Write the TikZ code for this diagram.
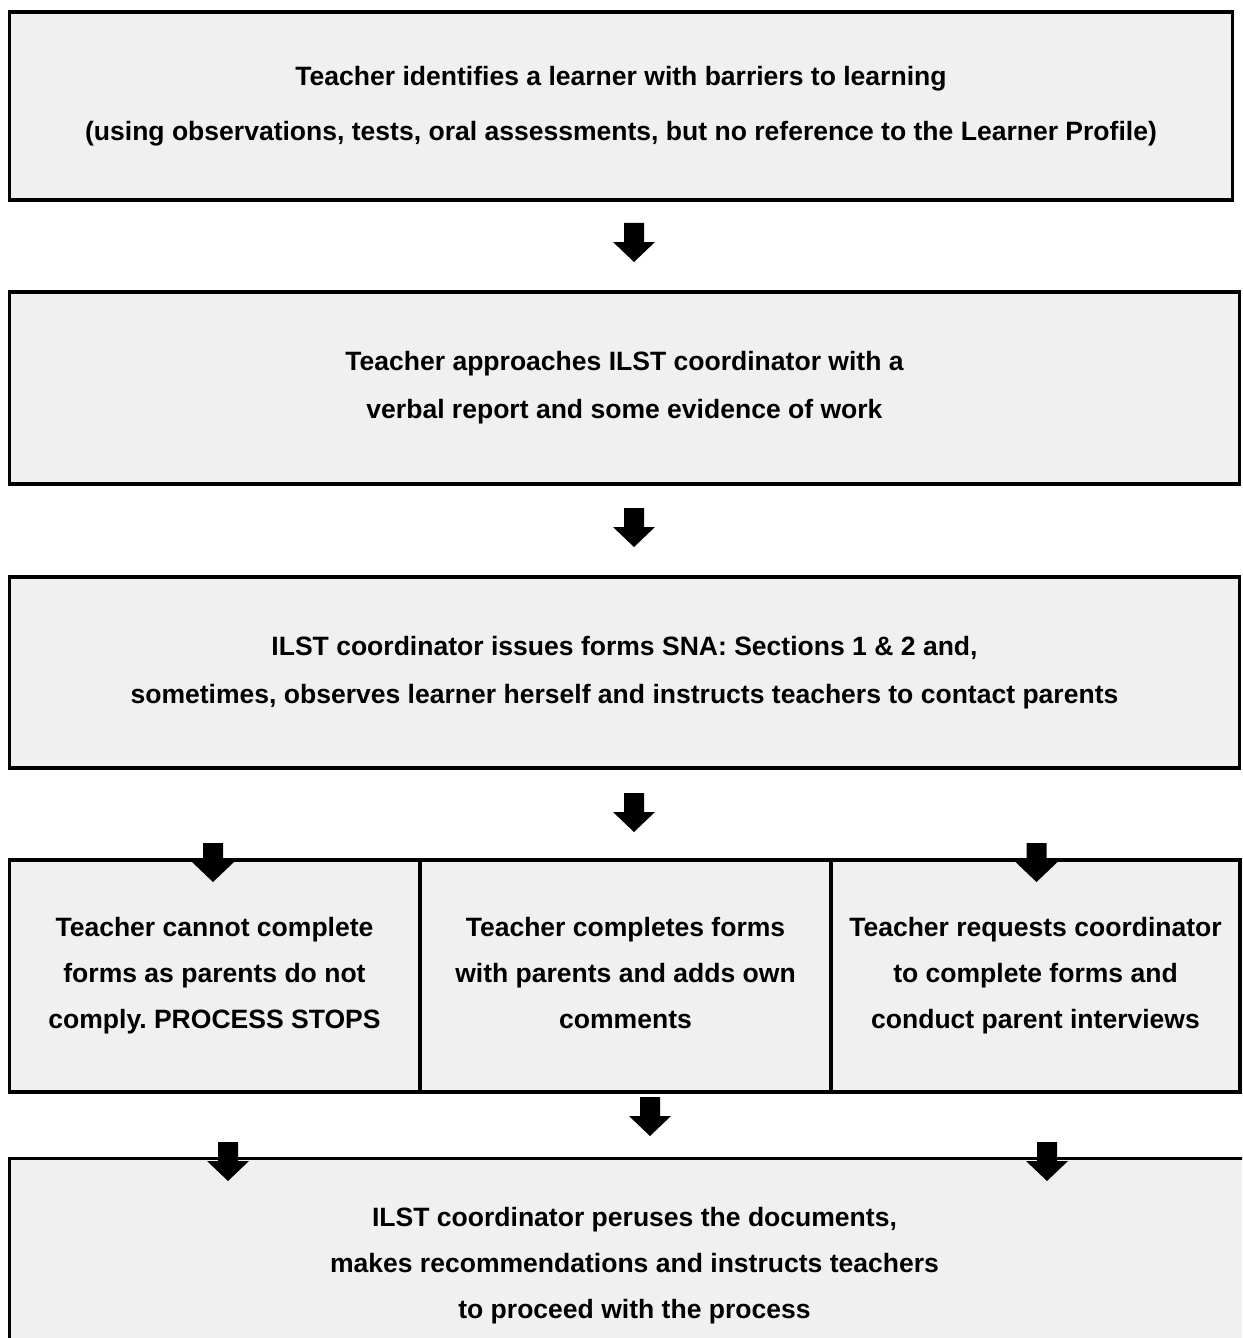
\documentclass[tikz,border=0pt]{standalone}
\usepackage{fontspec}
\setmainfont{Liberation Sans}
\frenchspacing
\usetikzlibrary{positioning}
\definecolor{boxgray}{HTML}{F0F0F0}
\tikzset{
  stage/.style={draw=black,line width=1.75pt,fill=boxgray,align=center,inner sep=0pt,
    font=\fontsize{15.1}{27.2}\selectfont\bfseries},            % process box
  wide/.style={stage,minimum width=24.62cm},                     % full-width box
  third/.style={stage,minimum width=8.22cm,minimum height=4.64cm,
    font=\fontsize{15.1}{26.2}\selectfont\bfseries},            % branch box
  downarr/.pic={\fill[black] (-10,0) -- (10,0) -- (10,19) -- (21,19)
    -- (0,39) -- (-21,19) -- (-10,19) -- cycle;},               % block arrow
}

\begin{document}
\begin{tikzpicture}[x=0.02cm,y=-0.02cm]
  \useasboundingbox (0,0) rectangle (1242,1338);
  \clip (0,0) rectangle (1242,1338);
  % main chain
  \node[stage,minimum width=24.48cm,minimum height=3.76cm] (identify) at (621,106)
    {Teacher identifies a learner with barriers to learning\\[4pt]
     (using observations, tests, oral assessments, but no reference to the Learner Profile)};
  \node[wide,minimum height=3.84cm] (approach) at (624.5,388)
    {Teacher approaches ILST coordinator with a\\ verbal report and some evidence of work};
  \node[wide,minimum height=3.82cm] (issue) at (624.5,672.5)
    {ILST coordinator issues forms SNA: Sections 1 \& 2 and,\\
     sometimes, observes learner herself and instructs teachers to contact parents};
  % three outcomes
  \node[third] (stops) at (214.5,976)
    {Teacher cannot complete\\ forms as parents do not\\ comply. PROCESS STOPS};
  \node[third] (completes) at (625.5,976)
    {Teacher completes forms\\ with parents and adds own\\ comments\vphantom{p}};
  \node[third,minimum width=8.18cm] (requests) at (1035.5,976)
    {Teacher requests coordinator\\ to complete forms and\\ conduct parent interviews};
  % final box, runs off the page
  \node[third,minimum width=25.02cm,minimum height=4.3cm] (peruse) at (634.5,1266)
    {ILST coordinator peruses the documents,\\ makes recommendations and instructs teachers\\
     to proceed with the process};
  % block arrows
  \pic at (634,223) {downarr};
  \pic at (634,508) {downarr};
  \pic at (634,793) {downarr};
  \pic at (213,843) {downarr};
  \pic at (1036.5,843) {downarr};
  \pic at (650,1097) {downarr};
  \pic at (228,1142) {downarr};
  \pic at (1047,1142) {downarr};
\end{tikzpicture}
\end{document}
